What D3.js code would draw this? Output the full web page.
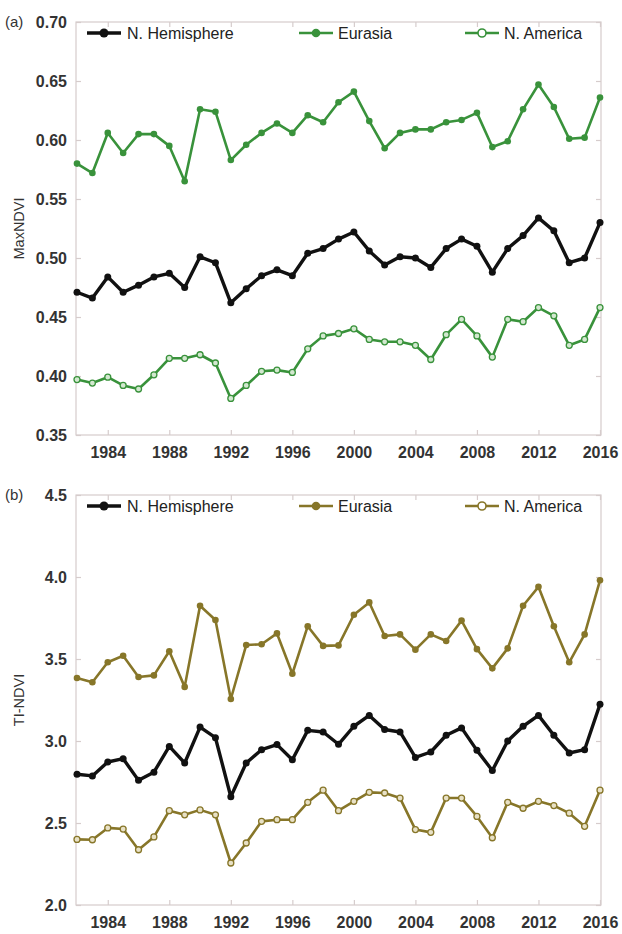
<!DOCTYPE html>
<html>
<head>
<meta charset="utf-8">
<script src="https://cdn.jsdelivr.net/npm/d3@7"></script>
<style>
  body { margin: 0; background: #fff; }
  svg { display: block; font-family: "Liberation Sans", Arial, sans-serif; }
</style>
</head>
<body>
<div id="chart"></div>
<script>
var years = d3.range(1982, 2017);
var xTicks = [1984, 1988, 1992, 1996, 2000, 2004, 2008, 2012, 2016];
var seriesNames = ['N. Hemisphere', 'Eurasia', 'N. America'];

// (a) MaxNDVI
var maxNH = [0.471, 0.466, 0.484, 0.471, 0.477, 0.484, 0.487, 0.475, 0.501, 0.496,
             0.462, 0.474, 0.485, 0.490, 0.485, 0.504, 0.508, 0.516, 0.522, 0.506,
             0.494, 0.501, 0.500, 0.492, 0.508, 0.516, 0.510, 0.488, 0.508, 0.519,
             0.534, 0.523, 0.496, 0.500, 0.530];
var maxEA = [0.580, 0.572, 0.606, 0.589, 0.605, 0.605, 0.595, 0.565, 0.626, 0.624,
             0.583, 0.596, 0.606, 0.614, 0.606, 0.621, 0.615, 0.632, 0.641, 0.616,
             0.593, 0.606, 0.609, 0.609, 0.615, 0.617, 0.623, 0.594, 0.599, 0.626,
             0.647, 0.628, 0.601, 0.602, 0.636];
var maxNA = [0.397, 0.394, 0.399, 0.392, 0.389, 0.401, 0.415, 0.415, 0.418, 0.411,
             0.381, 0.392, 0.404, 0.405, 0.403, 0.423, 0.434, 0.436, 0.440, 0.431,
             0.429, 0.429, 0.426, 0.414, 0.435, 0.448, 0.434, 0.416, 0.448, 0.446,
             0.458, 0.451, 0.426, 0.431, 0.458];
var maxTicks = [0.35, 0.40, 0.45, 0.50, 0.55, 0.60, 0.65, 0.70];

// (b) TI-NDVI
var tiNH = [2.797, 2.787, 2.872, 2.892, 2.760, 2.810, 2.967, 2.866, 3.085, 3.020,
            2.660, 2.866, 2.947, 2.978, 2.886, 3.065, 3.055, 2.980, 3.090, 3.156,
            3.070, 3.055, 2.900, 2.933, 3.035, 3.080, 2.943, 2.820, 3.000, 3.090,
            3.156, 3.035, 2.927, 2.947, 3.224];
var tiEA = [3.384, 3.358, 3.480, 3.520, 3.390, 3.400, 3.547, 3.330, 3.825, 3.738,
            3.256, 3.585, 3.590, 3.656, 3.410, 3.700, 3.580, 3.583, 3.770, 3.845,
            3.640, 3.650, 3.557, 3.650, 3.610, 3.734, 3.560, 3.443, 3.565, 3.825,
            3.940, 3.700, 3.480, 3.650, 3.980];
var tiNA = [2.400, 2.398, 2.470, 2.463, 2.337, 2.415, 2.575, 2.550, 2.580, 2.550,
            2.256, 2.378, 2.510, 2.520, 2.520, 2.626, 2.700, 2.575, 2.632, 2.687,
            2.683, 2.652, 2.460, 2.443, 2.652, 2.652, 2.540, 2.410, 2.626, 2.590,
            2.632, 2.606, 2.560, 2.480, 2.700];
var tiTicks = [2.0, 2.5, 3.0, 3.5, 4.0, 4.5];

var width = 622, height = 934;
var svg = d3.select('#chart').append('svg')
  .attr('width', width)
  .attr('height', height);

var frameColor = '#d6cccc';
var x = d3.scaleLinear().domain([1982, 2016]).range([77, 600]);

function drawPanel(opt) {
  var y = d3.scaleLinear().domain(opt.domain).range([opt.bottom, opt.top]);
  var g = svg.append('g');

  // frame
  g.append('rect')
    .attr('x', 76).attr('y', opt.top)
    .attr('width', 601 - 76).attr('height', opt.bottom - opt.top)
    .attr('fill', 'none').attr('stroke', frameColor).attr('stroke-width', 1.2);

  // inward ticks on all four sides
  var bottomAx = d3.axisBottom(x).tickValues(xTicks).tickSize(-5).tickPadding(12).tickFormat(d3.format('d'));
  var gb = g.append('g').attr('transform', 'translate(0,' + opt.bottom + ')').call(bottomAx);
  var topAx = d3.axisTop(x).tickValues(xTicks).tickSize(-5).tickFormat('');
  var gt = g.append('g').attr('transform', 'translate(0,' + opt.top + ')').call(topAx);
  var leftAx = d3.axisLeft(y).tickValues(opt.ticks).tickSize(-5).tickPadding(9).tickFormat(d3.format(opt.fmt));
  var gl = g.append('g').attr('transform', 'translate(76,0)').call(leftAx);
  var rightAx = d3.axisRight(y).tickValues(opt.ticks).tickSize(-5).tickFormat('');
  var gr = g.append('g').attr('transform', 'translate(601,0)').call(rightAx);

  [gb, gt, gl, gr].forEach(function(a){
    a.select('.domain').remove();
    a.selectAll('.tick line').attr('stroke', frameColor).attr('stroke-width', 1.2);
  });
  gb.selectAll('.tick text').attr('font-size', 16).attr('fill', '#333')
    .attr('font-family', '"Liberation Sans", Arial, sans-serif').attr('font-weight', 'bold');
  gl.selectAll('.tick text').attr('font-size', 16).attr('fill', '#333')
    .attr('font-family', '"Liberation Sans", Arial, sans-serif').attr('font-weight', 'bold');

  // panel letter
  g.append('text').attr('x', 5).attr('y', opt.top).attr('dy', '0.35em')
    .attr('font-size', 15).attr('fill', '#333').text(opt.letter);

  // y label
  g.append('text')
    .attr('transform', 'translate(19,' + ((opt.top + opt.bottom) / 2) + ') rotate(-90)')
    .attr('text-anchor', 'middle').attr('dy', '0.35em')
    .attr('font-size', 14.5).attr('fill', '#333').text(opt.ylabel);

  var line = d3.line()
    .x(function(d, i){ return x(years[i]); })
    .y(function(d){ return y(d); });

  var series = [
    {vals: opt.nh, color: '#111', w: 3.4, r: 3.5, open: false},
    {vals: opt.ea, color: opt.color, w: 2.6, r: 3.3, open: false},
    {vals: opt.na, color: opt.color, w: 2.6, r: 3.0, open: true}
  ];

  series.slice().reverse().forEach(function(s){
    g.append('path').datum(s.vals)
      .attr('d', line)
      .attr('fill', 'none')
      .attr('stroke', s.color)
      .attr('stroke-width', s.w)
      .attr('stroke-linejoin', 'round');
    g.selectAll(null).data(s.vals).enter().append('circle')
      .attr('cx', function(d, i){ return x(years[i]); })
      .attr('cy', function(d){ return y(d); })
      .attr('r', s.r)
      .attr('fill', s.open ? opt.light : s.color)
      .attr('stroke', s.color)
      .attr('stroke-width', s.open ? 1.3 : 0);
  });

  // legend
  var legX = [87, 299, 465];
  var legY = opt.top + 11;
  series.forEach(function(s, i){
    var lg = g.append('g').attr('transform', 'translate(' + legX[i] + ',' + legY + ')');
    lg.append('line').attr('x1', 0).attr('x2', 34).attr('y1', 0).attr('y2', 0)
      .attr('stroke', s.color).attr('stroke-width', s.w);
    lg.append('circle').attr('cx', 17).attr('cy', 0).attr('r', s.r + 1)
      .attr('fill', s.open ? '#fff' : s.color)
      .attr('stroke', s.color).attr('stroke-width', s.open ? 1.6 : 0);
    lg.append('text').attr('x', i === 0 ? 40 : 39).attr('y', 0).attr('dy', '0.35em')
      .attr('font-size', 16).attr('fill', '#222').text(seriesNames[i]);
  });
}

drawPanel({
  letter: '(a)', ylabel: 'MaxNDVI', top: 22, bottom: 435,
  domain: [0.35, 0.70], ticks: maxTicks, fmt: '.2f',
  nh: maxNH, ea: maxEA, na: maxNA, color: '#39923b', light: '#d3e8d0'
});

drawPanel({
  letter: '(b)', ylabel: 'TI-NDVI', top: 495, bottom: 905,
  domain: [2.0, 4.5], ticks: tiTicks, fmt: '.1f',
  nh: tiNH, ea: tiEA, na: tiNA, color: '#877629', light: '#e8e1c6'
});
</script>
</body>
</html>
